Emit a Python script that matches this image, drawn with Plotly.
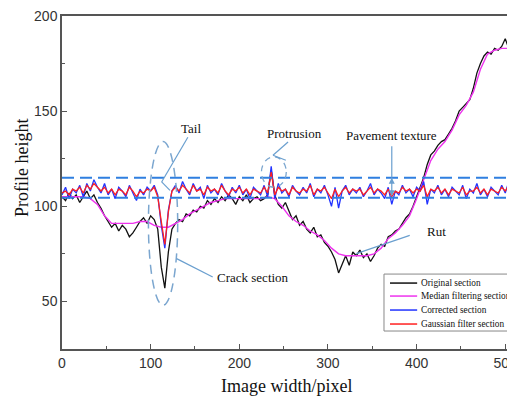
import plotly.graph_objects as go

# ---- data ----
x_step4 = list(range(0, 512, 4))
x_median = list(range(0, 513, 8))

original = [
    105, 103, 107, 104, 106, 102, 105, 108, 104, 106,
    102, 99, 95, 92, 89, 91, 87, 90, 88, 84,
    86, 89, 92, 94, 91, 95, 93, 88, 68, 57,
    76, 88, 91, 93, 92, 96, 95, 98, 97, 100,
    99, 103, 101, 104, 102, 105, 103, 106, 104, 101,
    105, 103, 106, 102, 104, 105, 103, 104, 106, 119,
    106, 101, 99, 102, 97, 93, 95, 90, 92, 88,
    86, 89, 84, 85, 81, 79, 76, 72, 65, 70,
    74, 69, 76, 74, 77, 73, 75, 71, 74, 78,
    80, 79, 84, 85, 87, 88, 91, 94, 96, 100,
    105, 110, 115, 122, 127, 129, 132, 134, 135, 138,
    141, 145, 150, 152, 154, 156, 162, 170, 175, 179,
    181, 180, 183, 182, 184, 188, 183, 184,
]

median = [
    105, 105, 105, 105, 104, 101, 95, 91, 91, 91,
    91, 92, 92, 90, 89, 89, 91, 93, 96, 98,
    100, 102, 103, 104, 104, 104, 104, 104, 104, 105,
    104, 100, 95, 92, 90, 87, 85, 82, 78, 75,
    74, 74, 74, 74, 75, 78, 83, 86, 90, 95,
    104, 114, 124, 130, 134, 140, 148, 153, 160, 172,
    180, 182, 183, 183, 183,
]

corrected = [
    106, 110, 104, 109, 107, 111, 105, 112, 108, 114,
    110, 107, 112, 106, 109, 104, 110, 108, 105, 111,
    107, 103, 109, 106, 110, 108, 111, 106, 90, 78,
    98, 108, 111, 107, 113, 109, 106, 112, 108, 110,
    104, 111, 107, 109, 106, 112, 108, 105, 110, 107,
    111, 106, 109, 104, 110, 108, 106, 111, 105, 121,
    104, 112, 107, 109, 105, 111, 108, 106, 110, 107,
    112, 105, 109, 107, 111, 106, 100, 110, 99, 108,
    111, 106, 109, 107, 110, 105, 108, 112, 106, 109,
    107, 104, 110, 101, 108, 106, 111, 107, 109, 105,
    110, 108, 113, 101, 109, 107, 111, 106, 109, 105,
    110, 108, 106, 111, 104, 109, 107, 112, 106, 109,
    105, 110, 108, 106, 111, 107, 113, 108,
]

gaussian = [
    107, 108, 106, 109, 108, 110, 107, 111, 109, 112,
    110, 108, 110, 107, 109, 106, 109, 108, 106, 110,
    108, 105, 108, 107, 109, 108, 110, 105, 92, 80,
    97, 108, 110, 108, 111, 109, 107, 111, 108, 109,
    106, 110, 108, 109, 107, 111, 108, 106, 109, 108,
    110, 107, 109, 106, 109, 108, 107, 110, 107, 118,
    106, 110, 108, 109, 106, 110, 108, 107, 109, 108,
    111, 106, 109, 108, 110, 107, 104, 109, 105, 108,
    110, 107, 109, 108, 109, 106, 108, 110, 107, 109,
    108, 106, 109, 105, 108, 107, 110, 108, 109, 107,
    109, 108, 111, 105, 109, 108, 110, 107, 109, 106,
    109, 108, 107, 110, 106, 108, 108, 110, 107, 109,
    106, 109, 108, 107, 110, 108, 111, 108,
]

series_names = ["Original section", "Median filtering section",
                "Corrected section", "Gaussian filter section"]
series_colors = ["#111111", "#ee33ee", "#2233ff", "#ff2020"]
band_levels = [115, 104.5]
x_ticks = [0, 100, 200, 300, 400, 500]
y_ticks = [50, 100, 150, 200]

SERIF = "Liberation Serif, Times New Roman, serif"
SANS = "Liberation Sans, Arial, sans-serif"
NOTE = "#7ba6cf"

fig = go.Figure()
xs = [x_step4, x_median, x_step4, x_step4]
ys = [original, median, corrected, gaussian]
widths = [1.3, 1.4, 1.3, 1.3]
for xv, yv, nm, col, w in zip(xs, ys, series_names, series_colors, widths):
    fig.add_trace(go.Scatter(x=xv, y=yv, mode="lines", name=nm,
                             line=dict(color=col, width=w), showlegend=False))

shapes = []
for lv in band_levels:
    shapes.append(dict(type="line", xref="paper", yref="y", x0=0, x1=1, y0=lv, y1=lv,
                       line=dict(color="#2f7fe0", width=2, dash="12px,6px")))
# ellipses
shapes.append(dict(type="circle", xref="x", yref="y", x0=97.5, x1=130.5, y0=48, y1=134,
                   line=dict(color=NOTE, width=1.5, dash="9px,6px")))
shapes.append(dict(type="circle", xref="x", yref="y", x0=225, x1=253, y0=110, y1=126,
                   line=dict(color=NOTE, width=1.3, dash="6px,5px")))
# leader lines
leaders = [
    (142, 136.3, 112.4, 112.8),
    (112.4, 112.8, 121.8, 108.4),
    (255, 133.8, 238, 126.8),
    (238, 126.8, 252.5, 124.2),
    (372, 131.5, 372, 115),
    (392.3, 84.7, 332, 75.1),
    (129.3, 72.5, 170, 62.8),
]
for x0, y0, x1, y1 in leaders:
    shapes.append(dict(type="line", xref="x", yref="y", x0=x0, y0=y0, x1=x1, y1=y1,
                       line=dict(color="#6a9fcf", width=1.2)))

annotations = [
    dict(x=145, y=140.9, text="Tail"),
    dict(x=262, y=138.5, text="Protrusion"),
    dict(x=372, y=137, text="Pavement texture"),
    dict(x=423, y=86.8, text="Rut"),
    dict(x=172.5, y=62.8, text="Crack section", xanchor="left"),
]
for a in annotations:
    a.update(xref="x", yref="y", showarrow=False, yanchor="middle",
             font=dict(family=SERIF, size=13, color="#111"))
    a.setdefault("xanchor", "center")

# double arrow between band lines
annotations.append(dict(x=372, y=115, ax=372, ay=104.5, xref="x", yref="y", axref="x", ayref="y",
                        text="", showarrow=True, arrowhead=2, startarrowhead=2, arrowside="end+start",
                        arrowsize=1, arrowwidth=1.2, arrowcolor="#6a9fcf"))

# axis titles
annotations.append(dict(x=0.496, y=-0.111, xref="paper", yref="paper", showarrow=False,
                        xanchor="center", yanchor="middle",
                        text="Image width/pixel", font=dict(family=SERIF, size=18, color="#111")))
annotations.append(dict(x=-0.0883, y=0.5435, xref="paper", yref="paper", showarrow=False,
                        xanchor="center", yanchor="middle",
                        textangle=-90, text="Profile height",
                        font=dict(family=SERIF, size=18, color="#111")))

# hand-built legend box (paper coordinates)
shapes.append(dict(type="rect", xref="paper", yref="paper", x0=0.7108, x1=0.9956, y0=0.054, y1=0.225,
                   line=dict(color="#888", width=1), fillcolor="white", layer="above"))
leg_y = [0.198, 0.159, 0.117, 0.075]
for nm, col, ly in zip(series_names, series_colors, leg_y):
    shapes.append(dict(type="line", xref="paper", yref="paper", x0=0.724, x1=0.784, y0=ly, y1=ly,
                       line=dict(color=col, width=1.5), layer="above"))
    annotations.append(dict(x=0.789, y=ly, xref="paper", yref="paper", xanchor="left", yanchor="middle",
                            showarrow=False, text=nm, font=dict(family=SERIF, size=9.3, color="#111")))

# the page body adds an 8px offset, so the figure is sized to the remaining window
fig.update_layout(
    width=507, height=391,
    margin=dict(l=54, r=0, t=8, b=50),
    paper_bgcolor="white", plot_bgcolor="white",
    shapes=shapes, annotations=annotations,
    showlegend=False,
)
fig.update_xaxes(range=[0, 511], tickvals=x_ticks, ticks="inside", ticklen=5, tickwidth=1.3,
                 tickcolor="#555", showline=True, linecolor="#555", linewidth=1.5, mirror=True,
                 showgrid=False, zeroline=False, automargin=False, ticklabeloverflow="allow",
                 tickfont=dict(family=SANS, size=14, color="#333"),
                 minor=dict(dtick=50, tick0=0, ticks="inside", ticklen=3, tickcolor="#555", showgrid=False))
fig.update_yaxes(range=[25, 200], tickvals=y_ticks, ticks="inside", ticklen=5, tickwidth=1.3,
                 tickcolor="#555", showline=True, linecolor="#555", linewidth=1.5,
                 showgrid=False, zeroline=False, automargin=False, ticklabeloverflow="allow",
                 tickfont=dict(family=SANS, size=14, color="#333"),
                 minor=dict(dtick=25, tick0=0, ticks="inside", ticklen=3, tickcolor="#555", showgrid=False))

fig.write_html("out.html")
